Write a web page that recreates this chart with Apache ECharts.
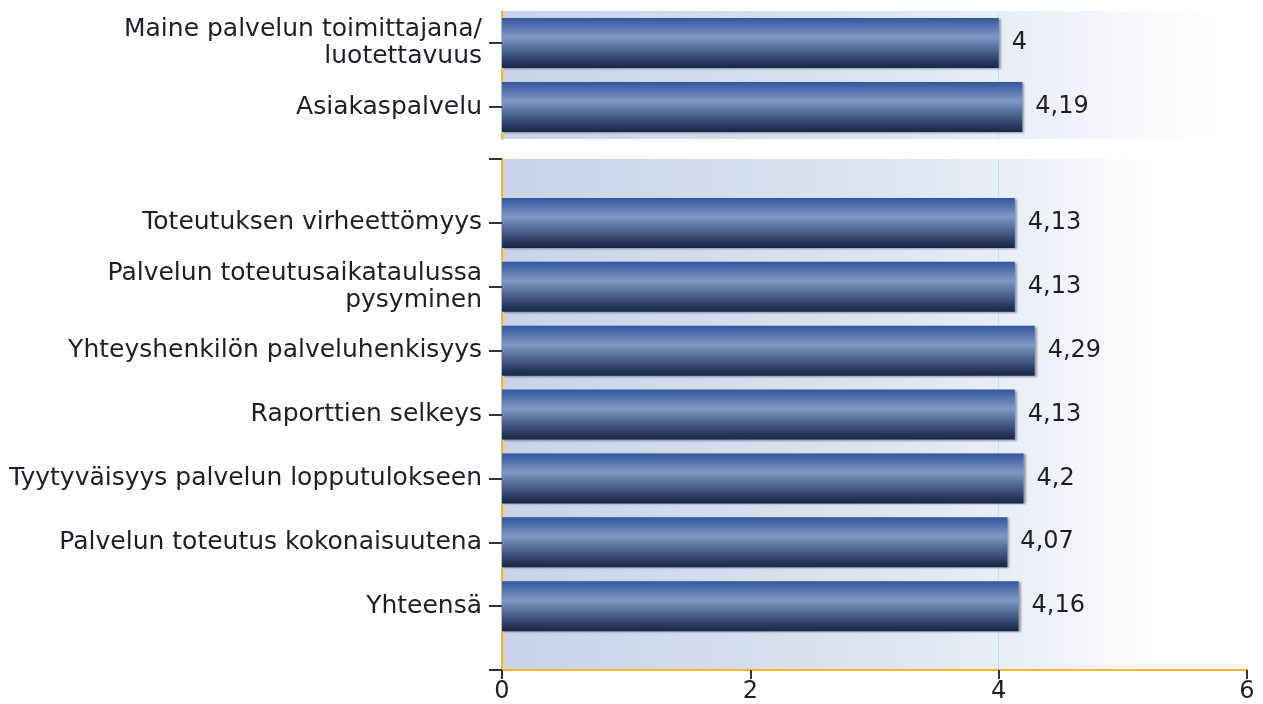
<!DOCTYPE html>
<html>
<head>
<meta charset="utf-8">
<script src="https://cdn.jsdelivr.net/npm/echarts@6/dist/echarts.min.js"></script>
<style>
  html, body { margin: 0; padding: 0; background: #fff; }
  #mychart { width: 1263px; height: 704px; }
</style>
</head>
<body>
<div id="mychart"></div>
<script>
// upper block
var topCategories = ['Maine palvelun toimittajana/\nluotettavuus', 'Asiakaspalvelu'];
var topValues = [4, 4.19];

// lower block
var bottomCategories = [
    'Toteutuksen virheettömyys',
    'Palvelun toteutusaikataulussa\npysyminen',
    'Yhteyshenkilön palveluhenkisyys',
    'Raporttien selkeys',
    'Tyytyväisyys palvelun lopputulokseen',
    'Palvelun toteutus kokonaisuutena',
    'Yhteensä'
];
var bottomValues = [4.13, 4.13, 4.29, 4.13, 4.2, 4.07, 4.16];

var xMin = 0, xMax = 6, xStep = 2;

var font = 'DejaVu Sans, Verdana, sans-serif';
var textColor = '#1e1e2a';
var yellow = '#f6b824';

var barColor = new echarts.graphic.LinearGradient(0, 0, 0, 1, [
    {offset: 0, color: '#33579a'},
    {offset: 0.1, color: '#4767a7'},
    {offset: 0.38, color: '#7f98c5'},
    {offset: 0.64, color: '#4d6795'},
    {offset: 0.9, color: '#25355a'},
    {offset: 1, color: '#1a2644'}
]);

function bgColor(fadeAt) {
    return new echarts.graphic.LinearGradient(0, 0, 1, 0, [
        {offset: 0, color: '#c7d3ea'},
        {offset: 0.5, color: '#dde4f1'},
        {offset: 0.7, color: '#ebeff7'},
        {offset: fadeAt, color: '#ffffff'},
        {offset: 1, color: '#ffffff'}
    ]);
}

function fmt(p) {
    return String(p.value).replace('.', ',');
}

// no grid line on 0 and 6
var splitColors = ['rgba(0,0,0,0)', '#bfe2ee', '#bfe2ee', 'rgba(0,0,0,0)'];

var barStyle = {
    color: barColor,
    shadowColor: 'rgba(0,0,0,0.35)',
    shadowBlur: 2,
    shadowOffsetX: 2,
    shadowOffsetY: 1
};

var barLabel = {
    show: true,
    position: 'right',
    distance: 13,
    fontFamily: font,
    fontSize: 24,
    color: textColor,
    formatter: fmt
};

var catAxisLabel = {
    fontFamily: font,
    fontSize: 25,
    color: textColor,
    lineHeight: 27,
    margin: 20,
    interval: 0,
    align: 'right'
};

var myChart = echarts.init(document.getElementById('mychart'));
var option = {
    animation: false,
    backgroundColor: '#fff',
    grid: [
        {left: 502, right: 16, top: 11, height: 128, show: true, borderWidth: 0, backgroundColor: bgColor(0.96)},
        {left: 502, right: 16, top: 159, height: 511, show: true, borderWidth: 0, backgroundColor: bgColor(0.88)}
    ],
    xAxis: [
        {
            gridIndex: 0, type: 'value', min: xMin, max: xMax, interval: xStep,
            axisLine: {show: false}, axisTick: {show: false}, axisLabel: {show: false},
            splitLine: {show: true, lineStyle: {color: splitColors, width: 1}}
        },
        {
            gridIndex: 1, type: 'value', min: xMin, max: xMax, interval: xStep,
            axisLine: {show: true, lineStyle: {color: yellow, width: 2}},
            axisTick: {show: true, length: 9, lineStyle: {color: '#333', width: 2}},
            axisLabel: {fontFamily: font, fontSize: 24, color: textColor, margin: 10},
            splitLine: {show: true, lineStyle: {color: splitColors, width: 1}}
        }
    ],
    yAxis: [
        {
            gridIndex: 0, type: 'category', inverse: true,
            data: topCategories,
            axisLine: {show: true, lineStyle: {color: yellow, width: 2}},
            axisTick: {show: true, alignWithLabel: true, length: 13, lineStyle: {color: '#333', width: 2}},
            axisLabel: catAxisLabel
        },
        {
            gridIndex: 1, type: 'category', inverse: true, boundaryGap: false,
            // empty slots at both ends give the end ticks
            data: [''].concat(bottomCategories).concat(['']),
            axisLine: {show: true, lineStyle: {color: yellow, width: 2}},
            axisTick: {show: true, interval: 0, length: 13, lineStyle: {color: '#333', width: 2}},
            axisLabel: catAxisLabel
        }
    ],
    series: [
        {
            type: 'bar', xAxisIndex: 0, yAxisIndex: 0,
            barWidth: 50,
            data: topValues,
            itemStyle: barStyle,
            label: barLabel
        },
        {
            type: 'bar', xAxisIndex: 1, yAxisIndex: 1,
            barWidth: 50,
            data: [null].concat(bottomValues).concat([null]),
            itemStyle: barStyle,
            label: barLabel
        }
    ]
};
myChart.setOption(option);
</script>
</body>
</html>
